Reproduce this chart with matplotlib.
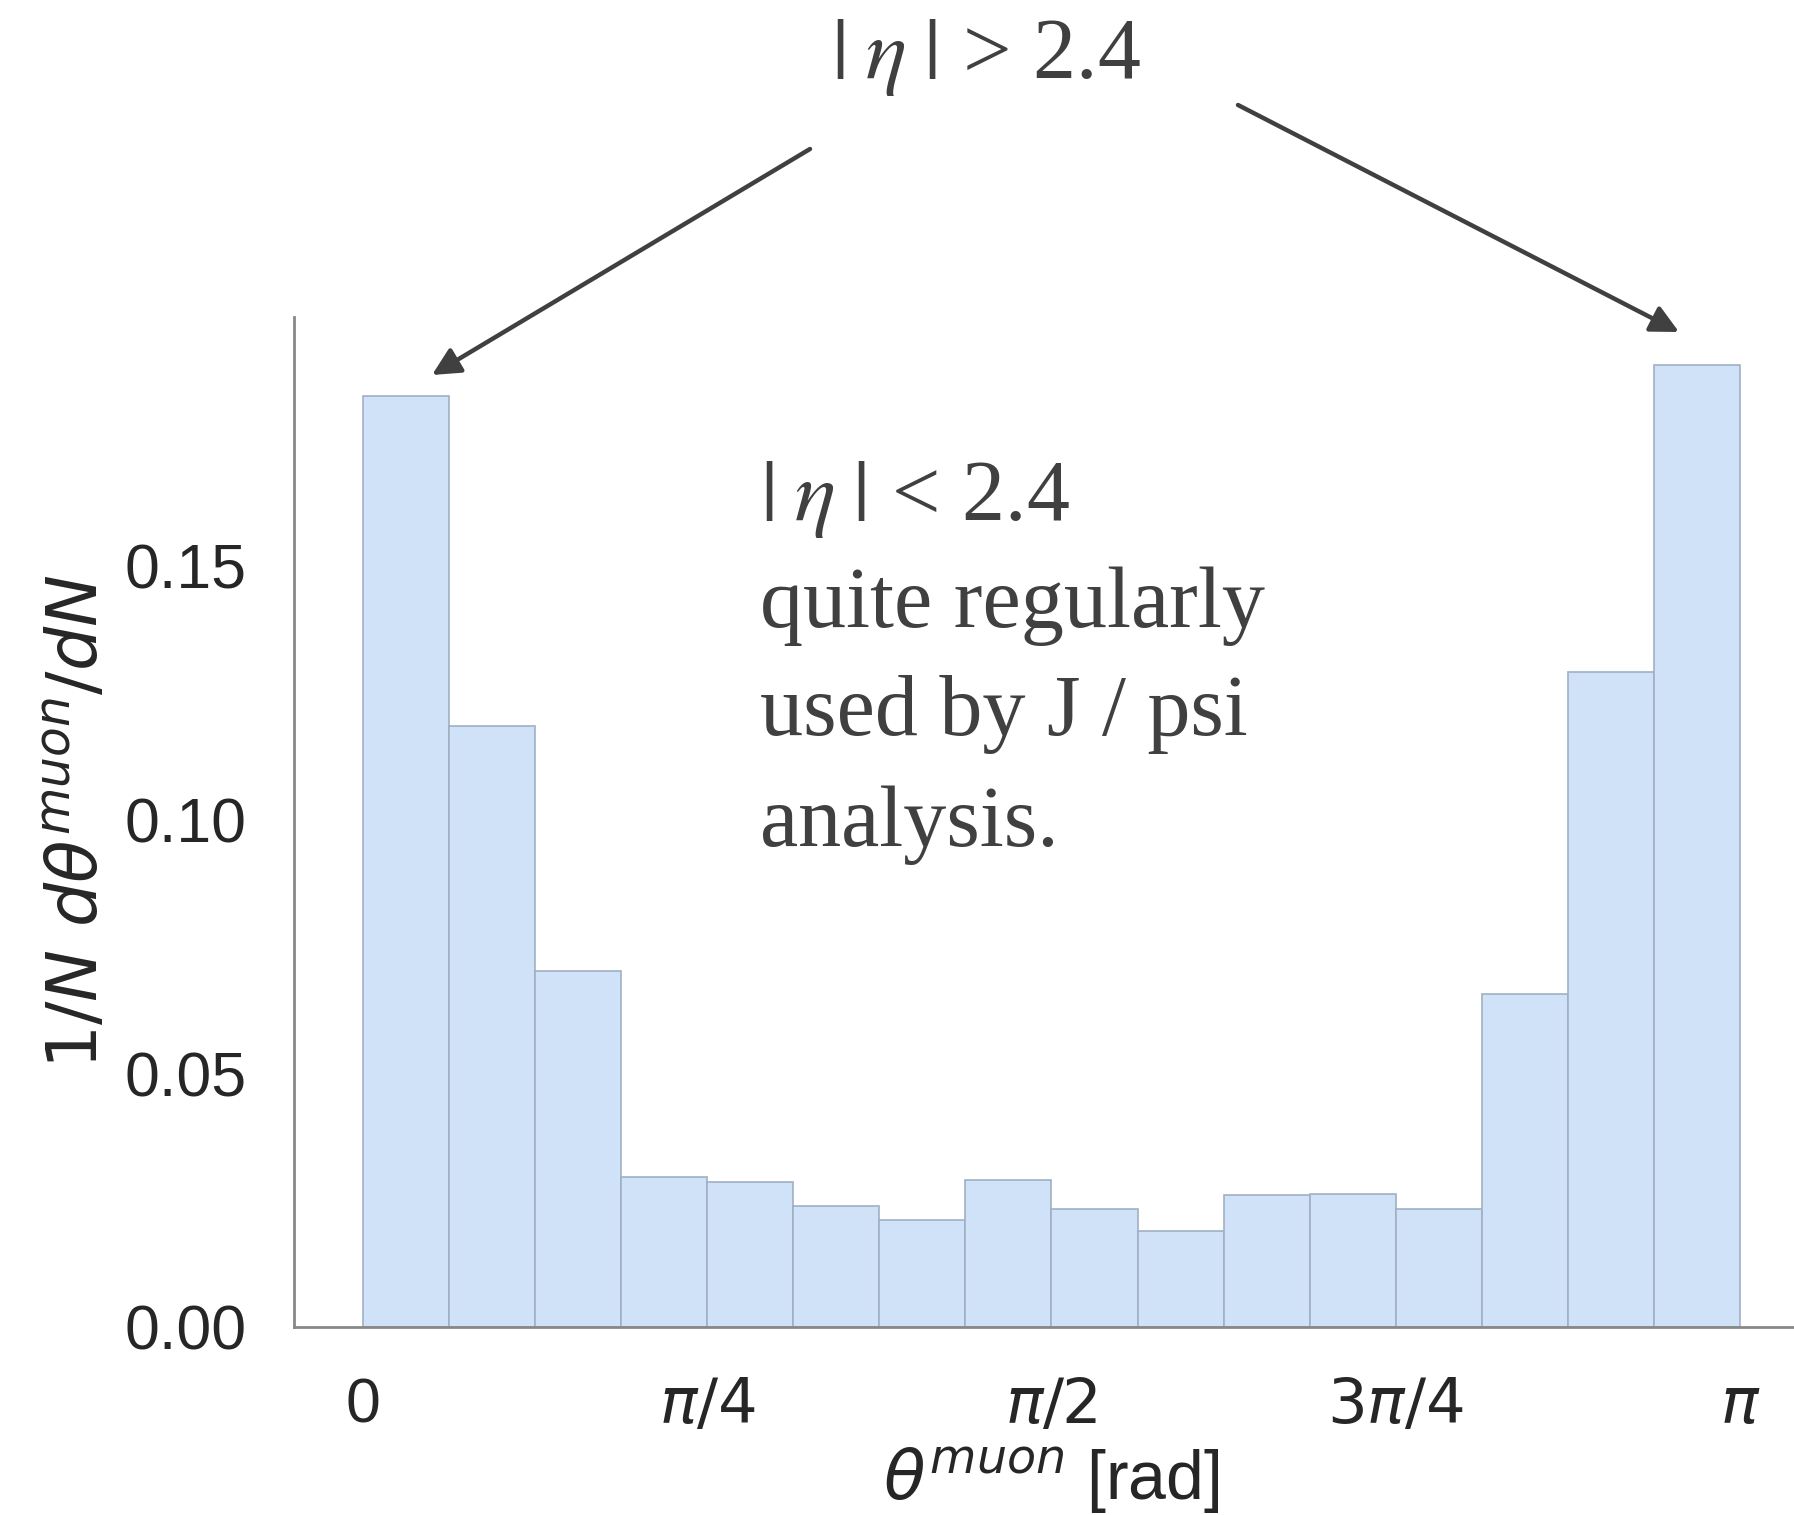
import numpy as np
import matplotlib
matplotlib.use("Agg")
import matplotlib.pyplot as plt

plt.rcParams['font.family'] = ['Liberation Sans', 'DejaVu Sans']
plt.rcParams['mathtext.fontset'] = 'dejavusans'

# fraction of muons per theta bin (16 equal bins from 0 to pi)
n_bins = 16
frac = [0.1834, 0.1184, 0.0701, 0.0295, 0.0286, 0.0239, 0.0210, 0.0289,
        0.0232, 0.0189, 0.0259, 0.0262, 0.0232, 0.0656, 0.1290, 0.1894]
xtick_vals = [0, np.pi / 4, np.pi / 2, 3 * np.pi / 4, np.pi]
xtick_labels = ['0', r'$\pi/4$', r'$\pi/2$', r'$3\pi/4$', r'$\pi$']
ytick_vals = [0.00, 0.05, 0.10, 0.15]

edges = np.linspace(0, np.pi, n_bins + 1)
centers = 0.5 * (edges[:-1] + edges[1:])

fig = plt.figure(figsize=(17.94, 15.15), dpi=100)
ax = fig.add_axes([0.1639, 0.1241, 0.8444, 0.6667])

ax.hist(centers, bins=edges, weights=frac, facecolor='#cfe2f7',
        edgecolor='#9fb0c2', linewidth=1.2)

ax.set_xlim(-0.05 * np.pi, 1.05 * np.pi)
ax.set_ylim(0, max(frac) * 1.05)
ax.set_xticks(xtick_vals)
ax.set_xticklabels(xtick_labels)
ax.set_yticks(ytick_vals)
ax.set_yticklabels(['%.2f' % v for v in ytick_vals])
ax.tick_params(axis='both', length=0, labelsize=45, colors='#262626')
ax.tick_params(axis='x', pad=36)
ax.tick_params(axis='y', pad=34)

for side in ['top', 'right']:
    ax.spines[side].set_visible(False)
for side in ['left', 'bottom']:
    ax.spines[side].set_color('#888888')
    ax.spines[side].set_linewidth(2)

ax.set_xlabel(r'$\theta^{muon}$ [rad]', fontsize=49, color='#262626', labelpad=6)
ax.set_ylabel(r'$1/N\ d\theta^{muon}/dN$', fontsize=50, color='#262626', labelpad=9)

# annotations on top of the histogram
txt_kw = dict(family=['Liberation Serif', 'DejaVu Serif'], math_fontfamily='stix',
              color='#404040', fontsize=62)
fig.text(0.5497, 0.9485, r'$|\;\eta\;|$ > 2.4', ha='center', va='baseline', **txt_kw)
block = [r'$|\;\eta\;|$ < 2.4', 'quite regularly', 'used by J / psi', 'analysis.']
baselines = [520, 627, 735, 846]
for line, yb in zip(block, baselines):
    fig.text(0.4236, 1 - yb / 1515, line, ha='left', va='baseline', **txt_kw)

arrow_kw = dict(arrowstyle='-|>', color='#404040', lw=3.2, mutation_scale=42,
                shrinkA=0, shrinkB=0)
fig.add_artist(matplotlib.patches.FancyArrowPatch(
    (810 / 1794, 1 - 149 / 1515), (432 / 1794, 1 - 375 / 1515),
    transform=fig.transFigure, **arrow_kw))
fig.add_artist(matplotlib.patches.FancyArrowPatch(
    (1238 / 1794, 1 - 105 / 1515), (1679 / 1794, 1 - 332 / 1515),
    transform=fig.transFigure, **arrow_kw))

fig.savefig('out.png', dpi=100)
